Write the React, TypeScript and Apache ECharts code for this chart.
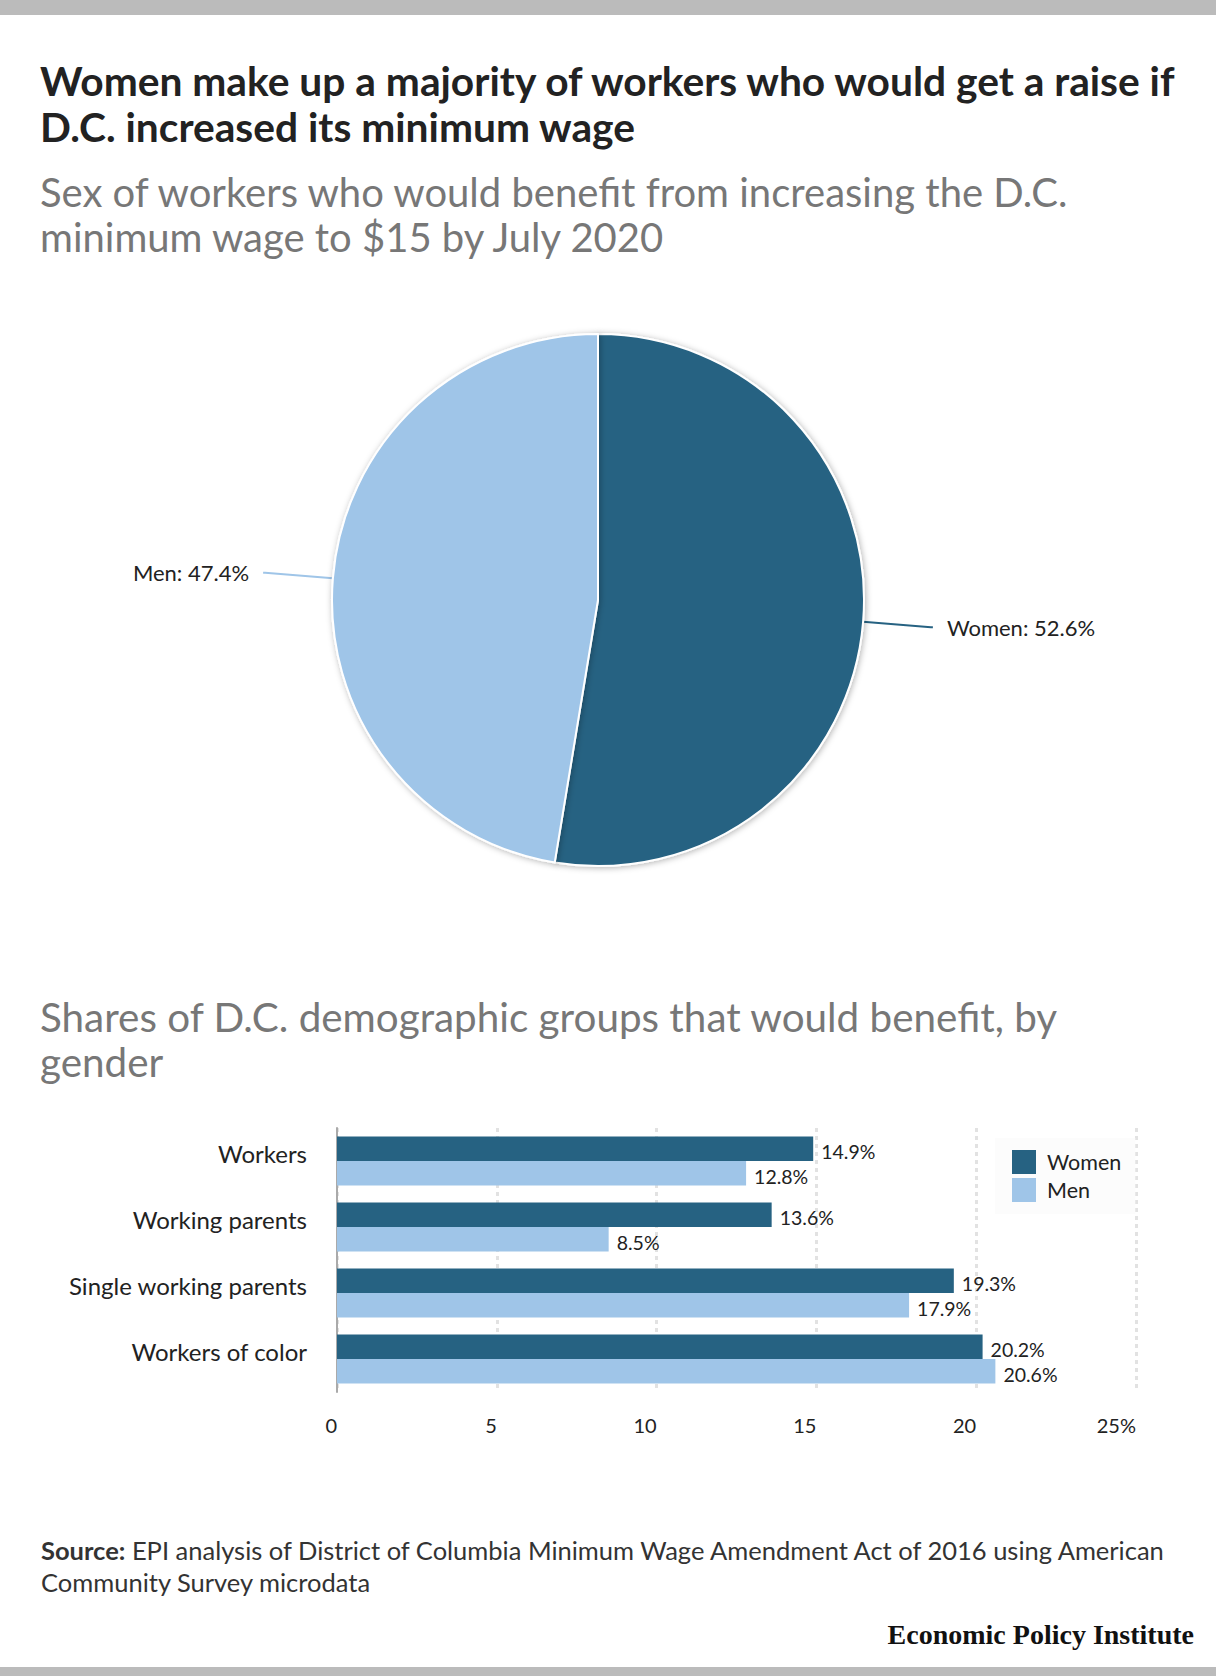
import { useRef, useEffect } from "react";
import * as echarts from "echarts";

const pieNames = ["Women", "Men"];
const pieValues = [52.6, 47.4];

const groups = ["Workers", "Working parents", "Single working parents", "Workers of color"];
const womenShares = [14.9, 13.6, 19.3, 20.2];
const menShares = [12.8, 8.5, 17.9, 20.6];
const xTicks = [0, 5, 10, 15, 20, 25];

const DARK = "#266282";
const LIGHT = "#9fc5e8";
const FONT = "Lato";

const App = () => {
  const chartRef = useRef<HTMLDivElement>(null);

  useEffect(() => {
    if (!chartRef.current) return;
    const myChart = echarts.init(chartRef.current, null, { renderer: "svg" });

    const txt = (text: string, x: number, y: number, size: number, color: string, weight = "normal", extra: any = {}) => ({
      type: "text",
      x,
      y,
      style: {
        text,
        fontSize: size,
        fontWeight: weight,
        fontFamily: FONT,
        fill: color,
        verticalAlign: "middle",
        ...extra,
      },
    });

    const barLabel = {
      show: true,
      position: "right",
      formatter: "{c}%",
      fontSize: 19.5,
      color: "#222",
      distance: 8,
      offset: [0, 3],
    };

    const option: any = {
      animation: false,
      backgroundColor: "#fff",
      textStyle: { fontFamily: FONT },
      graphic: [
        { type: "rect", shape: { x: 0, y: 0, width: 1216, height: 15 }, style: { fill: "#bbbbbb" } },
        { type: "rect", shape: { x: 0, y: 1667, width: 1216, height: 9 }, style: { fill: "#bbbbbb" } },
        txt("Women make up a majority of workers who would get a raise if", 40, 80, 40.7, "#222", "bold"),
        txt("D.C. increased its minimum wage", 40, 126, 40.7, "#222", "bold"),
        txt("Sex of workers who would benefit from increasing the D.C.", 40, 192, 40, "#777"),
        txt("minimum wage to $15 by July 2020", 40, 237, 40, "#777"),
        txt("Shares of D.C. demographic groups that would benefit, by", 40, 1016, 40.4, "#777"),
        txt("gender", 40, 1061, 40.4, "#777"),
        {
          type: "text",
          x: 41,
          y: 1550,
          style: {
            text: "{b|Source:} EPI analysis of District of Columbia Minimum Wage Amendment Act of 2016 using American",
            fontSize: 25.5,
            fontFamily: FONT,
            fill: "#333",
            verticalAlign: "middle",
            rich: { b: { fontWeight: "bold", fontSize: 25.5, fontFamily: FONT, fill: "#333" } },
          },
        },
        txt("Community Survey microdata", 41, 1582, 25.5, "#333"),
        txt("Economic Policy Institute", 1194, 1634, 28, "#111", "bold", {
          fontFamily: "Liberation Serif",
          align: "right",
        }),
      ],
      legend: {
        data: ["Women", "Men"],
        orient: "vertical",
        left: 995,
        top: 1138,
        padding: [12, 14, 12, 17],
        backgroundColor: "#fcfcfc",
        icon: "rect",
        itemWidth: 24,
        itemHeight: 24,
        itemGap: 4,
        textStyle: { fontSize: 21.5, color: "#222", fontFamily: FONT, padding: [0, 0, 0, 6] },
        selectedMode: false,
      },
      grid: { left: 337, top: 1128, width: 799, height: 264, containLabel: false },
      xAxis: {
        type: "value",
        min: 0,
        max: 25,
        interval: 5,
        axisLine: { show: false },
        axisTick: { show: false },
        axisLabel: {
          align: "right",
          margin: 23,
          fontSize: 20,
          color: "#222",
          formatter: (v: number) => (v === xTicks[xTicks.length - 1] ? v + "%" : String(v)),
        },
        splitLine: { show: true, lineStyle: { color: "#e2e2e2", width: 3, type: [4, 4] } },
      },
      yAxis: {
        type: "category",
        data: groups,
        inverse: true,
        axisLine: { show: true, lineStyle: { color: "#aaaaaa", width: 2 } },
        axisTick: { show: false },
        axisLabel: { fontSize: 24, color: "#222", margin: 30, verticalAlign: "bottom", lineHeight: 15 },
      },
      series: [
        {
          type: "pie",
          center: [598, 600],
          radius: 266,
          startAngle: 90,
          clockwise: true,
          data: pieNames.map((n, i) => ({
            name: n,
            value: pieValues[i],
            itemStyle: { color: i === 0 ? DARK : LIGHT },
            labelLine: { lineStyle: { color: i === 0 ? DARK : LIGHT } },
          })),
          itemStyle: {
            borderColor: "#fff",
            borderWidth: 2,
            shadowBlur: 6,
            shadowColor: "rgba(0,0,0,0.3)",
            shadowOffsetX: 1,
            shadowOffsetY: 1,
          },
          label: {
            formatter: "{b}: {c}%",
            fontSize: 22,
            color: "#222",
            distanceToLabelLine: 14,
          },
          labelLine: { length: 68, length2: 2, lineStyle: { width: 2 } },
          emphasis: { disabled: true },
        },
        {
          name: "Women",
          type: "bar",
          data: womenShares,
          itemStyle: { color: DARK },
          barGap: "0%",
          barCategoryGap: "26%",
          label: barLabel,
        },
        {
          name: "Men",
          type: "bar",
          data: menShares,
          itemStyle: { color: LIGHT },
          barGap: "0%",
          barCategoryGap: "26%",
          label: barLabel,
        },
      ],
    };

    myChart.setOption(option);
    return () => {
      myChart.dispose();
    };
  }, []);

  return (
    <div
      ref={chartRef}
      style={{ position: "absolute", left: 0, top: 0, width: 1216, height: 1676 }}
    ></div>
  );
};

export default App;
